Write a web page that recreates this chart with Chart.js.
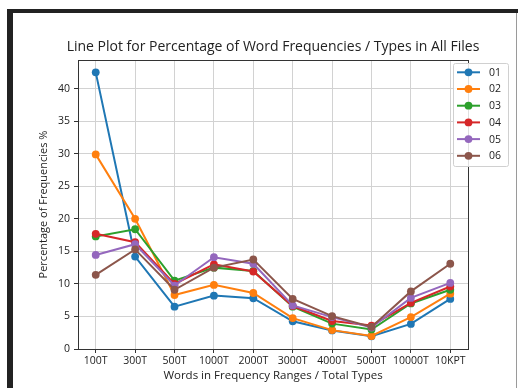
<!DOCTYPE html>
<html>
<head>
<meta charset="utf-8">
<script src="https://cdn.jsdelivr.net/npm/chart.js@4/dist/chart.umd.min.js"></script>
<style>
  html, body { margin: 0; padding: 0; background: #fff; }
  #wrap { position: relative; width: 518px; height: 388px; overflow: hidden; }
  .frameTop { position: absolute; left: 7px; top: 9px; width: 511px; height: 4px; background: #222; }
  .frameLeft { position: absolute; left: 7px; top: 9px; width: 6px; height: 379px; background: #222; }
  .frameRight { position: absolute; left: 516px; top: 13px; width: 1px; height: 375px; background: #9a9a9a; }
  #chart { position: absolute; left: 0; top: 0; }
</style>
</head>
<body>
<div id="wrap">
  <div class="frameTop"></div>
  <div class="frameLeft"></div>
  <div class="frameRight"></div>
  <canvas id="chart" width="518" height="388"></canvas>
</div>
<script>
// x categories
const categories = ["100T", "300T", "500T", "1000T", "2000T", "3000T", "4000T", "5000T", "10000T", "10KPT"];

// series (percent)
const file01 = [42.5, 14.2, 6.5, 8.2, 7.8, 4.25, 2.85, 1.95, 3.85, 7.7];
const file02 = [29.9, 20.0, 8.3, 9.85, 8.6, 4.75, 2.9, 2.0, 4.9, 8.5];
const file03 = [17.3, 18.4, 10.5, 12.5, 12.0, 6.5, 3.9, 3.0, 7.0, 9.1];
const file04 = [17.7, 16.4, 10.0, 13.0, 11.9, 6.6, 4.3, 3.6, 7.1, 9.6];
const file05 = [14.45, 16.1, 9.75, 14.1, 13.1, 6.7, 4.9, 3.3, 7.85, 10.15];
const file06 = [11.4, 15.3, 9.1, 12.5, 13.75, 7.7, 5.05, 3.4, 8.85, 13.1];

const seriesNames = ["01", "02", "03", "04", "05", "06"];
const seriesValues = [file01, file02, file03, file04, file05, file06];
const seriesColors = ["#1f77b4", "#ff7f0e", "#2ca02c", "#d62728", "#9467bd", "#8c564b"];

const yTicks = [0, 5, 10, 15, 20, 25, 30, 35, 40];

const chartTitle = "Line Plot for Percentage of Word Frequencies / Types in All Files";

const FONT = "'Open Sans', 'DejaVu Sans', sans-serif";

// plot box, title over the plot area, matplotlib style legend
const boxAndLegend = {
  id: "boxAndLegend",
  afterDatasetsDraw(chart) {
    const ctx = chart.ctx;
    const a = chart.chartArea;
    ctx.save();
    ctx.strokeStyle = "#333";
    ctx.lineWidth = 1;
    ctx.strokeRect(Math.round(a.left) + 0.5, Math.round(a.top) + 0.5,
      Math.round(a.right - a.left), Math.round(a.bottom - a.top));

    ctx.fillStyle = "#222";
    ctx.font = "14px " + FONT;
    ctx.textAlign = "center";
    ctx.textBaseline = "middle";
    ctx.fillText(chartTitle, (a.left + a.right) / 2, 47.5);

    // legend
    const lx = 453, ly = 63, lw = 55, lh = 103;
    ctx.fillStyle = "rgba(255,255,255,0.85)";
    ctx.strokeStyle = "#d0d0d0";
    ctx.beginPath();
    ctx.roundRect(lx + 0.5, ly + 0.5, lw, lh, 2);
    ctx.fill();
    ctx.stroke();
    ctx.font = "10.5px " + FONT;
    ctx.textBaseline = "middle";
    ctx.textAlign = "left";
    seriesNames.forEach((name, i) => {
      const y = 72.3 + i * 16.7;
      ctx.strokeStyle = seriesColors[i];
      ctx.lineWidth = 2;
      ctx.beginPath();
      ctx.moveTo(457, y);
      ctx.lineTo(480, y);
      ctx.stroke();
      ctx.fillStyle = seriesColors[i];
      ctx.beginPath();
      ctx.arc(468.5, y, 3.9, 0, Math.PI * 2);
      ctx.fill();
      ctx.fillStyle = "#222";
      ctx.fillText(name, 489, y + 0.5);
    });
    ctx.restore();
  }
};

const datasets = seriesNames.map((name, i) => ({
  label: name,
  data: seriesValues[i].map((v, j) => ({ x: j, y: v })),
  borderColor: seriesColors[i],
  backgroundColor: seriesColors[i],
  borderWidth: 2,
  pointRadius: 3.9,
  pointHoverRadius: 3.9,
  pointBorderWidth: 0,
  tension: 0,
  order: seriesNames.length - i
}));

new Chart(document.getElementById("chart"), {
  type: "line",
  data: { datasets },
  plugins: [boxAndLegend],
  options: {
    responsive: false,
    animation: false,
    events: [],
    layout: { padding: { left: 0, right: 50, top: 60, bottom: 0 } },
    plugins: {
      legend: { display: false },
      tooltip: { enabled: false },
      title: { display: false }
    },
    scales: {
      x: {
        type: "linear",
        min: -0.45,
        max: categories.length - 1 + 0.45,
        afterBuildTicks: (s) => { s.ticks = categories.map((c, i) => ({ value: i })); },
        afterFit: (s) => { s.height = 39; },
        ticks: {
          callback: (v) => categories[v],
          color: "#222",
          font: { family: FONT, size: 10.5 },
          padding: 2,
          maxRotation: 0,
          autoSkip: false
        },
        grid: { color: "#d2d2d2", lineWidth: 1, tickLength: 4, tickColor: "#333" },
        border: { display: false },
        title: {
          display: true,
          text: "Words in Frequency Ranges / Total Types",
          color: "#222",
          font: { family: FONT, size: 11.5 },
          padding: { top: 0, bottom: 5 }
        }
      },
      y: {
        min: 0,
        max: 44.4,
        afterBuildTicks: (s) => { s.ticks = yTicks.map((v) => ({ value: v })); },
        afterFit: (s) => { s.width = 78; },
        ticks: {
          color: "#222",
          font: { family: FONT, size: 10.5 },
          padding: 4
        },
        grid: { color: "#d2d2d2", lineWidth: 1, tickLength: 4, tickColor: "#333" },
        border: { display: false },
        title: {
          display: true,
          text: "Percentage of Frequencies %",
          color: "#222",
          font: { family: FONT, size: 11 },
          padding: { top: 37, bottom: 0 }
        }
      }
    }
  }
});
</script>
</body>
</html>
